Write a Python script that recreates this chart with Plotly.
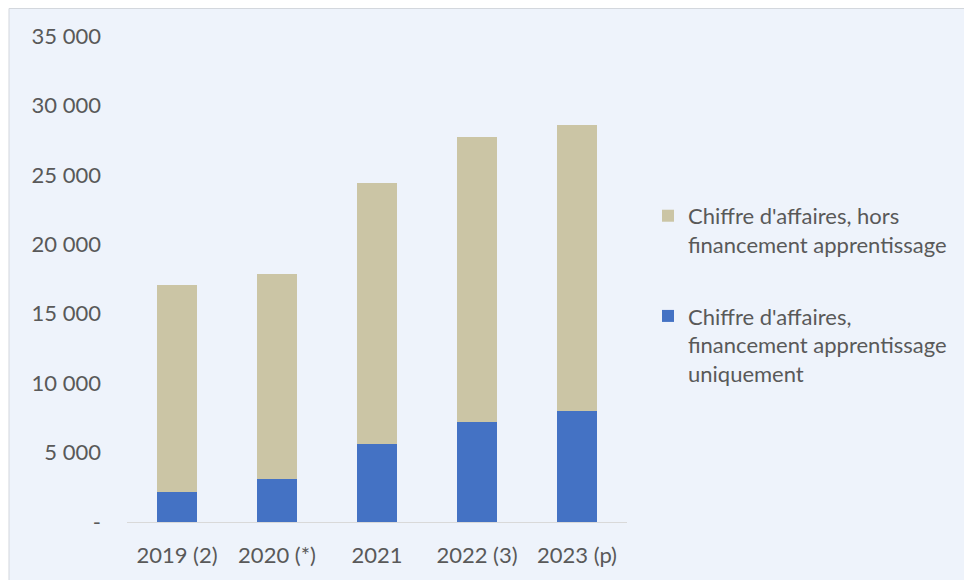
import plotly.graph_objects as go

# chiffre d'affaires (en millions d'euros) par annee
annees = ["2019 (2)", "2020 (*)", "2021", "2022 (3)", "2023 (p)"]
ca_apprentissage = [2150, 3100, 5650, 7200, 8000]
ca_hors_apprentissage = [14920, 14760, 18750, 20550, 20600]

y_ticks = [0, 5000, 10000, 15000, 20000, 25000, 30000, 35000]
y_ticktext = ["-", "5 000", "10 000", "15 000", "20 000", "25 000", "30 000", "35 000"]

grey = "#595959"
bg = "#EEF3FB"
fnt = "Lato"

fig = go.Figure()
fig.add_trace(go.Bar(x=annees, y=ca_apprentissage,
    name="Chiffre d'affaires,<br>financement apprentissage<br>uniquement",
    marker=dict(color="#4472C4", line=dict(width=0)),
    legendgroup="b", legendrank=2))
fig.add_trace(go.Bar(x=annees, y=ca_hors_apprentissage,
    name="Chiffre d'affaires, hors<br>financement apprentissage",
    marker=dict(color="#CBC5A5", line=dict(width=0)),
    legendgroup="a", legendrank=1))

# fond du graphique avec cadre fin
fig.add_shape(type="rect", xref="paper", yref="paper",
    x0=-0.236, x1=1.75, y0=-0.3, y1=1.0566,
    fillcolor=bg, line=dict(color="#D3D7DD", width=1), layer="below")

fig.update_layout(
    width=972, height=580,
    margin=dict(l=119, r=353, t=28, b=66),
    paper_bgcolor="white", plot_bgcolor="rgba(0,0,0,0)",
    barmode="stack", bargap=0.6,
    font=dict(family=fnt, size=22, color=grey),
    legend=dict(x=1.042, xanchor="left", y=0.673, yanchor="top",
        traceorder="grouped", tracegroupgap=40, valign="top",
        bgcolor="rgba(0,0,0,0)", font=dict(family=fnt, size=22, color=grey)),
    showlegend=True,
)
fig.update_xaxes(showline=True, linecolor="#D9D9D9", linewidth=1,
    showgrid=False, ticks="", ticklabelstandoff=14, fixedrange=True)
fig.update_yaxes(range=[0, 35000], tickvals=y_ticks, ticktext=y_ticktext,
    showgrid=False, zeroline=False, showline=False, ticks="",
    ticklabelstandoff=25, fixedrange=True)

fig.write_html("out.html")
